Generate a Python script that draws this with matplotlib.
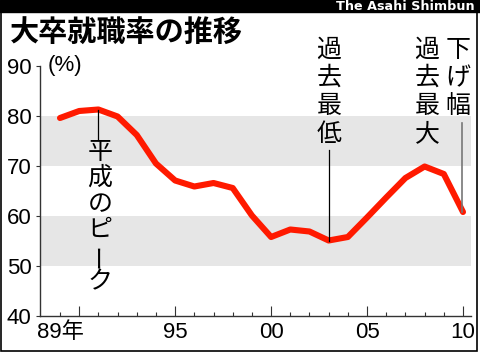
import matplotlib
matplotlib.use("Agg")
import matplotlib.pyplot as plt
from matplotlib.transforms import Affine2D
from matplotlib.patches import Rectangle

years = list(range(1989, 2011))
rates = [79.6, 81.0, 81.3, 79.9, 76.2, 70.5, 67.1, 65.9, 66.6, 65.6, 60.1,
         55.8, 57.3, 56.9, 55.1, 55.8, 59.7, 63.7, 67.6, 69.9, 68.4, 60.8]
yticks = [40, 50, 60, 70, 80, 90]
xmajor = [1990, 1995, 2000, 2005, 2010]
xlabels = {1989: "89年", 1995: "95", 2000: "00", 2005: "05", 2010: "10"}
title = "大卒就職率の推移"
credit = "The Asahi Shimbun"

W, H = 480, 353
fig = plt.figure(figsize=(W / 100, H / 100), dpi=100)
# pixel coords: x from left, y from top
pix = Affine2D().scale(1 / W, -1 / H).translate(0, 1) + fig.transFigure

num_font = ["Liberation Sans", "Noto Sans CJK JP"]
jp_font = ["Noto Sans CJK JP", "DejaVu Sans"]

ax = fig.add_axes([40 / W, (H - 316) / H, 431 / W, 250 / H])
ax.set_xlim(1989 - 20 / 19.19, 2010 + 8 / 19.19)
ax.set_ylim(40, 90)

ax.axhspan(50, 60, color="#e6e6e6", lw=0, zorder=0)
ax.axhspan(70, 80, color="#e6e6e6", lw=0, zorder=0)

ax.plot(years, rates, color="#ff1a00", lw=4.4, solid_joinstyle="round",
        solid_capstyle="round", zorder=3)

for s in ["top", "right"]:
    ax.spines[s].set_visible(False)
for s in ["left", "bottom"]:
    ax.spines[s].set_linewidth(1.0)
    ax.spines[s].set_color("#333333")

ax.set_yticks(yticks)
ax.set_yticklabels([str(v) for v in yticks], family=num_font, fontsize=16)
ax.tick_params(axis="y", direction="out", length=3, width=0.8, pad=3,
               color="#333333")

ax.set_xticks(xmajor)
ax.set_xticklabels([])
ax.set_xticks(years, minor=True)
ax.tick_params(axis="x", which="major", direction="in", length=7, width=0.8,
               color="#333333")
ax.tick_params(axis="x", which="minor", direction="in", length=3, width=0.8,
               color="#333333")
for yr, lab in xlabels.items():
    ax.text(yr, -0.068, lab, transform=ax.get_xaxis_transform(),
            fontsize=16, family=num_font, ha="center", va="center")

fig.text(48, 66, "(%)", transform=pix, fontsize=16, family=num_font,
         ha="left", va="center")


# leader lines
def pixel_to_val(py):
    return 40 + (316 - py) / 5


i91 = years.index(1991)
i03 = years.index(2003)
i10 = years.index(2010)
ax.plot([1991, 1991], [rates[i91], pixel_to_val(140)], color="black", lw=0.9, zorder=4)
ax.plot([2003, 2003], [rates[i03], pixel_to_val(150)], color="black", lw=0.9, zorder=4)
ax.plot([2009.95, 2009.95], [rates[i10], pixel_to_val(123)], color="#777777", lw=1.2, zorder=4)


def vtext(s, x, y0, step, size=18):
    for k, ch in enumerate(s):
        rot = 90 if ch == "ー" else 0
        fig.text(x, y0 + k * step, ch, transform=pix, fontsize=size,
                 family=jp_font, ha="center", va="center", rotation=rot)


vtext("平成のピーク", 100, 152, 26)
vtext("過去最低", 329, 50, 28)
vtext("過去最大", 427, 50, 28)
vtext("下げ幅", 458, 50, 28)

fig.text(10, 33, title, transform=pix, fontsize=21, family=jp_font,
         weight="bold", ha="left", va="center")

# top black bar with credit
fig.patches.append(Rectangle((0, 0), W, 12, transform=pix, color="black", zorder=0))
fig.text(475, 6.5, credit, transform=pix, fontsize=9.2, family="DejaVu Sans",
         weight="bold", color="white", ha="right", va="center")

# frame
fig.patches.append(Rectangle((0.8, 0), 476.5, 350.5, transform=pix, fill=False,
                             ec="black", lw=1.2))

fig.savefig("out.png", dpi=100)
